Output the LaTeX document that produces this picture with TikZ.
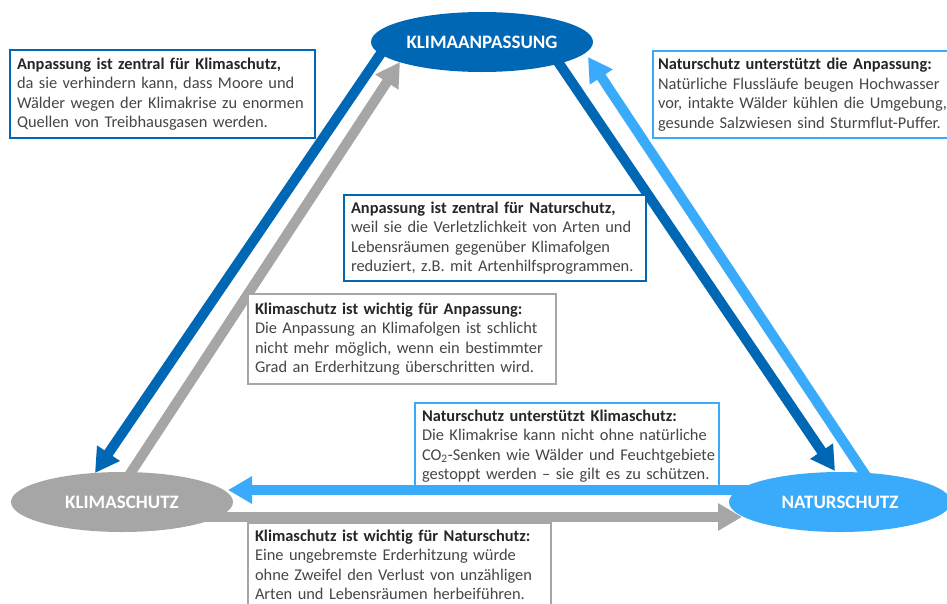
\documentclass[tikz,border=0pt]{standalone}
\usepackage{fontspec}
\setmainfont[Ligatures={NoCommon}]{Carlito}
\usetikzlibrary{shapes.geometric,arrows.meta}
\definecolor{dblue}{RGB}{0,103,180}
\definecolor{lblue}{RGB}{58,170,250}
\definecolor{mgray}{RGB}{166,166,166}
\definecolor{txt}{RGB}{70,70,70}
\definecolor{htxt}{RGB}{38,38,38}
\newcommand{\hd}[1]{\mbox{\bfseries\color{htxt}#1}}
\newcommand{\lin}[1]{\mbox{#1}}
\begin{document}
\begin{tikzpicture}[x=1pt,y=-1pt,
 arr/.style={line width=10pt,-{Triangle[width=26pt,length=24pt]}},
 circ/.style={ellipse, minimum width=222pt, minimum height=60pt, inner sep=0pt, text=white, font=\fontsize{19}{22}\selectfont\bfseries},
 info/.style={draw, line width=2pt, fill=white, anchor=north west, align=left, inner xsep=7pt, inner ysep=0pt, text=txt, font=\fontsize{16.4}{19.5}\selectfont},
]
\useasboundingbox (0,0) rectangle (947,603);
% ellipse centres
\coordinate (pA) at (482,42);
\coordinate (pK) at (122,502);
\coordinate (pN) at (840,502);
% arrow end points
\coordinate (a1s) at (390,40);  \coordinate (a1e) at (95,473);
\coordinate (a2s) at (126,480); \coordinate (a2e) at (400,62);
\coordinate (a3s) at (550,50);  \coordinate (a3e) at (835,471);
\coordinate (a4s) at (870,482); \coordinate (a4e) at (588,57);
\coordinate (a5s) at (780,490); \coordinate (a5e) at (228,490);
\coordinate (a6s) at (200,517); \coordinate (a6e) at (742,517);
% diagonal arrows
\draw[arr,dblue] (a1s) -- (a1e);
\draw[arr,mgray] (a2s) -- (a2e);
\draw[arr,dblue] (a3s) -- (a3e);
\draw[arr,lblue] (a4s) -- (a4e);
% boxes
\node[info,draw=dblue,minimum width=305pt,minimum height=88pt,text width=291pt] (b1) at (9,49)
 {\hd{Anpassung ist zentral für Klimaschutz,}\\ \lin{da sie verhindern kann, dass Moore und}\\ \lin{Wälder wegen der Klimakrise zu enormen}\\ \lin{Quellen von Treibhausgasen werden.}};
\node[info,draw=lblue,minimum width=310pt,minimum height=87pt,text width=300pt,inner xsep=5pt] (b2) at (652,50)
 {\hd{Naturschutz unterstützt die Anpassung:}\\ \lin{Natürliche Flussläufe beugen Hochwasser}\\ \lin{vor, intakte Wälder kühlen die Umgebung,}\\ \lin{gesunde Salzwiesen sind Sturmflut-Puffer.}};
\node[info,draw=dblue,minimum width=302pt,minimum height=86pt,text width=288pt] (b3) at (343,194)
 {\hd{Anpassung ist zentral für Naturschutz,}\\ \lin{weil sie die Verletzlichkeit von Arten und}\\ \lin{Lebensräumen gegenüber Klimafolgen}\\ \lin{reduziert, z.B. mit Artenhilfsprogrammen.}};
\node[info,draw=mgray,minimum width=308pt,minimum height=90pt,text width=294pt] (b4) at (247,293)
 {\hd{Klimaschutz ist wichtig für Anpassung:}\\ \lin{Die Anpassung an Klimafolgen ist schlicht}\\ \lin{nicht mehr möglich, wenn ein bestimmter}\\ \lin{Grad an Erderhitzung überschritten wird.}};
\node[info,draw=lblue,minimum width=304pt,minimum height=86pt,text width=290pt] (b5) at (414,402)
 {\hd{Naturschutz unterstützt Klimaschutz:}\\ \lin{Die Klimakrise kann nicht ohne natürliche}\\ \lin{CO\textsubscript{2}-Senken wie Wälder und Feuchtgebiete}\\ \lin{gestoppt werden – sie gilt es zu schützen.}};
\node[info,draw=mgray,minimum width=303pt,minimum height=84pt,text width=289pt] (b6) at (247,522)
 {\hd{Klimaschutz ist wichtig für Naturschutz:}\\ \lin{Eine ungebremste Erderhitzung würde}\\ \lin{ohne Zweifel den Verlust von unzähligen}\\ \lin{Arten und Lebensräumen herbeiführen.}};
% horizontal arrows
\draw[arr,lblue] (a5s) -- (a5e);
\draw[arr,mgray] (a6s) -- (a6e);
% ellipses
\node[circ,fill=dblue] (ka) at (pA) {KLIMAANPASSUNG};
\node[circ,fill=mgray] (ks) at (pK) {KLIMASCHUTZ};
\node[circ,fill=lblue] (ns) at (pN) {NATURSCHUTZ};
\end{tikzpicture}
\end{document}
